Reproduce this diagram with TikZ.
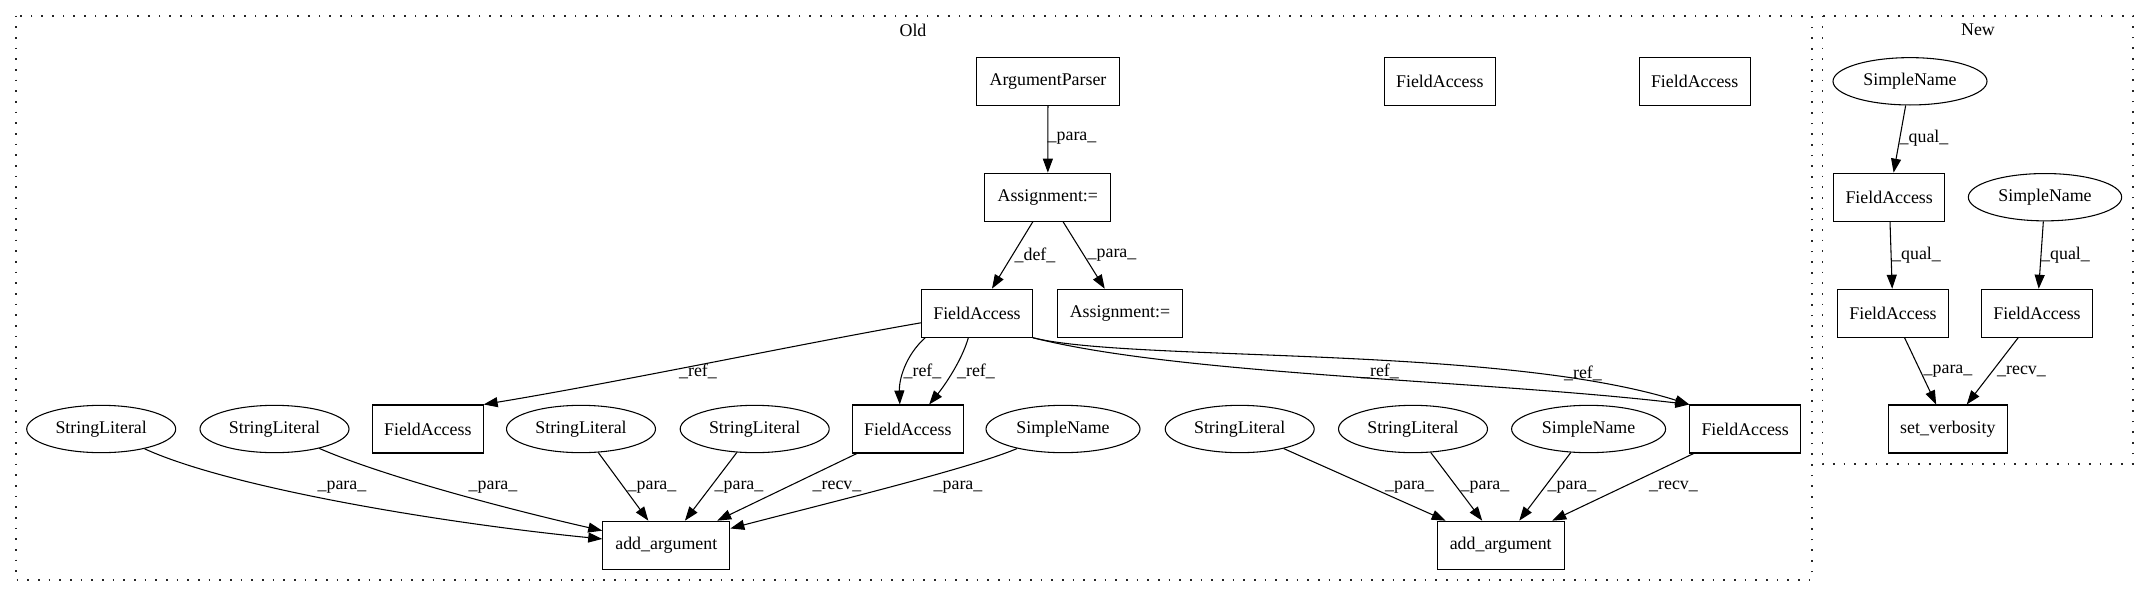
\documentclass[tikz,border=0pt]{standalone}
\usepackage{fontspec}
\setmainfont{Liberation Serif}
\usetikzlibrary{shapes.geometric,arrows.meta}

\begin{document}
\begin{tikzpicture}[x=0.75pt, y=-0.75pt,
  font=\fontsize{13.4pt}{16pt}\selectfont,
  box/.style={rectangle, draw, line width=0.8pt, minimum height=36pt, inner sep=1pt},
  oval/.style={ellipse, draw, line width=0.8pt, minimum height=35.5pt, inner sep=1pt},
  lbl/.style={inner sep=0pt},
  link/.style={-{Triangle[length=10.5pt,width=7.5pt]}, line width=0.8pt},
  clusterbox/.style={draw=black!85, line width=1.2pt, dash pattern=on 1.3pt off 6.7pt}]
\useasboundingbox (0,0) rectangle (2149,596);

\draw[clusterbox] (15.7,15.7) rectangle (1811.7,580);
\draw[clusterbox] (1822.3,15.7) rectangle (2133,463.7);
\node[lbl] (oldt) at (913,30) {Old};
\node[lbl] (newt) at (1978,30) {New};

\node[box, minimum width=106.7pt] (parser) at (1048,81.3) {ArgumentParser};
\node[box, minimum width=94.3pt] (assign) at (1047.8,197.2) {Assignment:=};
\node[box, minimum width=83pt] (fld) at (977,313.2) {FieldAccess};
\node[box, minimum width=94pt] (assign2) at (1120,313.3) {Assignment:=};
\node[box, minimum width=83pt] (fldtopa) at (1439.8,81.3) {FieldAccess};
\node[box, minimum width=83pt] (fldtopb) at (1694.7,81.3) {FieldAccess};

\node[oval, minimum width=111.75pt] (strA) at (101.2,429) {StringLiteral};
\node[oval, minimum width=111.75pt] (strB) at (274.5,429) {StringLiteral};
\node[box, minimum width=83pt] (fldL) at (427.8,429) {FieldAccess};
\node[oval, minimum width=111.75pt] (strC) at (581,429) {StringLiteral};
\node[oval, minimum width=111.75pt] (strD) at (754.7,429) {StringLiteral};
\node[box, minimum width=83pt] (fldM) at (907.8,429) {FieldAccess};
\node[oval, minimum width=115.5pt] (nameA) at (1063,429) {SimpleName};
\node[oval, minimum width=111.75pt] (strE) at (1239.7,429) {StringLiteral};
\node[oval, minimum width=111.75pt] (strF) at (1413,429) {StringLiteral};
\node[oval, minimum width=115.5pt] (nameB) at (1588.6,429) {SimpleName};
\node[box, minimum width=83pt] (fldR) at (1745.2,429) {FieldAccess};
\node[box, minimum width=95.3pt] (addA) at (666.3,545.2) {add\_argument};
\node[box, minimum width=95.3pt] (addB) at (1500.7,545.2) {add\_argument};

\node[oval, minimum width=115.5pt] (nameN) at (1910,81.3) {SimpleName};
\node[box, minimum width=83pt] (fldNa) at (1889.2,197.2) {FieldAccess};
\node[oval, minimum width=115pt] (nameM) at (2045,197.2) {SimpleName};
\node[box, minimum width=83pt] (fldNb) at (1893,313.3) {FieldAccess};
\node[box, minimum width=83pt] (fldNc) at (2037,313.3) {FieldAccess};
\node[box, minimum width=89.3pt] (setv) at (1947.8,429) {set\_verbosity};

\draw[link] (parser) -- (assign) node[lbl] at (1072,138) {\_para\_};
\draw[link] (assign) -- (fld) node[lbl] at (1035,255) {\_def\_};
\draw[link] (assign) -- (assign2) node[lbl] at (1112,255) {\_para\_};
\draw[link] (fld) .. controls (811,341.7) and (620,382) .. (fldL.north east) node[lbl] at (698,371) {\_ref\_};
\draw[link] ([xshift=3pt]fld.south west) .. controls (905,356) and (899,380) .. ([xshift=-6pt]fldM.north) node[lbl] at (922.5,371) {\_ref\_};
\draw[link] ([xshift=-6.5pt]fld.south) .. controls (962,360) and (945,385) .. ([xshift=16pt]fldM.north) node[lbl] at (976,371) {\_ref\_};
\draw[link] (fld.south east) .. controls (1130,362) and (1500,345) .. (fldR.north west) node[lbl] at (1583,373) {\_ref\_};
\draw[link] (fld.south east) .. controls (1180,375) and (1480,380) .. (fldR.north west) node[lbl] at (1380,371) {\_ref\_};

\draw[link] (strA) .. controls (232.6,489) and (450,524) .. (addA) node[lbl] at (342,486.7) {\_para\_};
\draw[link] (strB) .. controls (388.2,478.3) and (520,512) .. (addA) node[lbl] at (493,486.7) {\_para\_};
\draw[link] (strC) -- (addA) node[lbl] at (652,486.7) {\_para\_};
\draw[link] (strD) -- (addA) node[lbl] at (739,486.7) {\_para\_};
\draw[link] (fldM) -- (addA) node[lbl] at (837,486.7) {\_recv\_};
\draw[link] (nameA) .. controls (970.4,468.4) and (820,505) .. (addA) node[lbl] at (958,486.7) {\_para\_};
\draw[link] (strE) -- (addB) node[lbl] at (1409.5,486.7) {\_para\_};
\draw[link] (strF) -- (addB) node[lbl] at (1485,486.7) {\_para\_};
\draw[link] (nameB) -- (addB) node[lbl] at (1572,487) {\_para\_};
\draw[link] (fldR) -- (addB) node[lbl] at (1673.5,486.7) {\_recv\_};

\draw[link] (nameN) -- (fldNa) node[lbl] at (1924,138) {\_qual\_};
\draw[link] (fldNa) -- (fldNb) node[lbl] at (1916.5,255) {\_qual\_};
\draw[link] (nameM) -- (fldNc) node[lbl] at (2065.5,255) {\_qual\_};
\draw[link] (fldNb) -- (setv) node[lbl] at (1948,371) {\_para\_};
\draw[link] (fldNc) -- (setv) node[lbl] at (2021.5,371) {\_recv\_};
\end{tikzpicture}
\end{document}
